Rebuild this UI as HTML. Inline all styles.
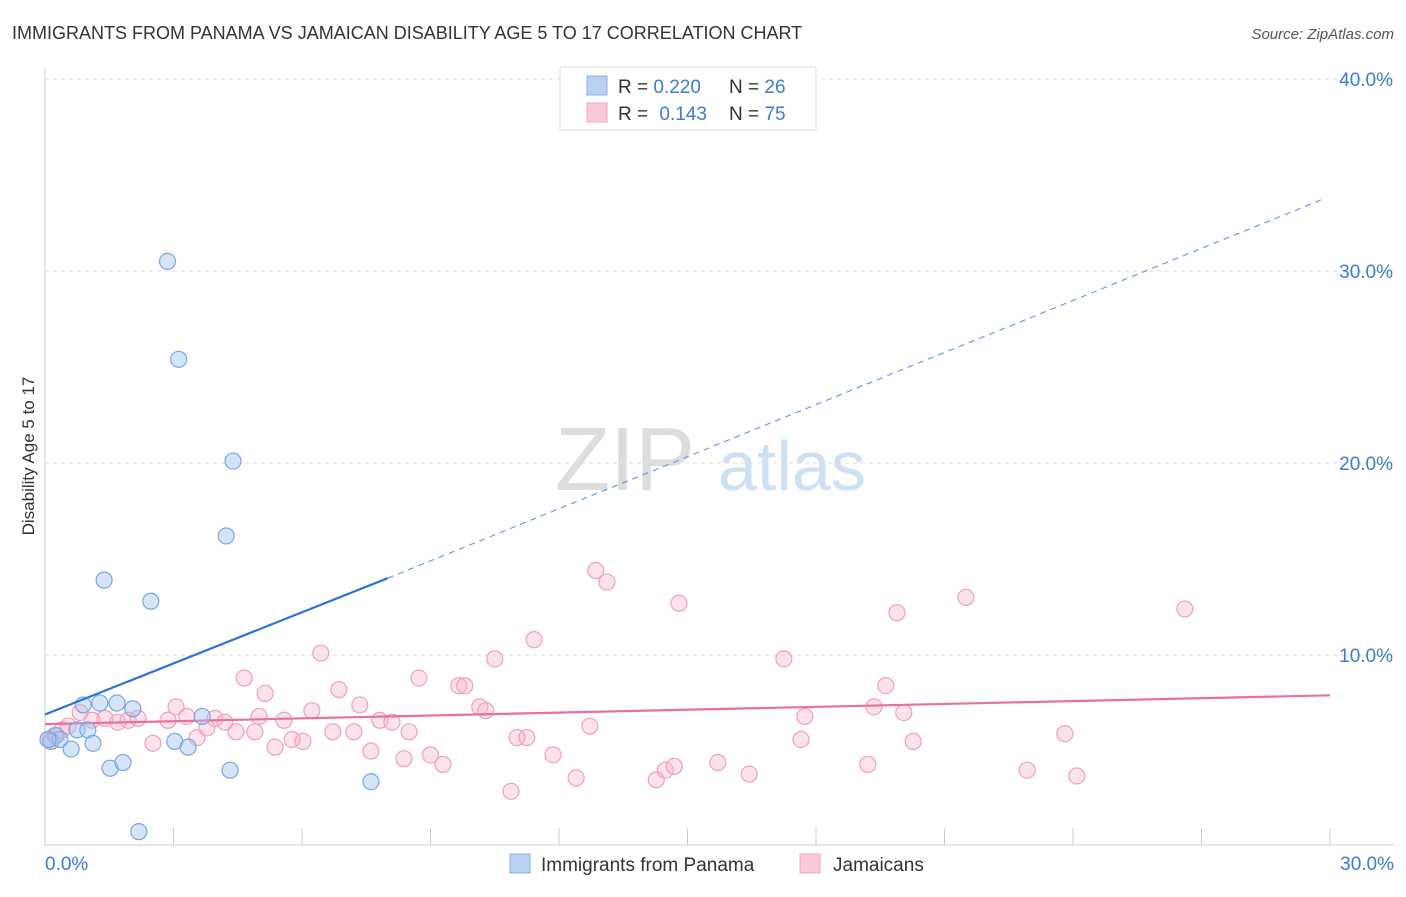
<!DOCTYPE html>
<html><head><meta charset="utf-8"><style>
body{margin:0;background:#fff;font-family:"Liberation Sans",sans-serif;}
svg text{font-family:"Liberation Sans",sans-serif;}
</style></head><body>
<svg id="chart" width="1406" height="892" xmlns="http://www.w3.org/2000/svg">
<text x="12" y="39" font-size="18" fill="#333">IMMIGRANTS FROM PANAMA VS JAMAICAN DISABILITY AGE 5 TO 17 CORRELATION CHART</text>
<text x="1394" y="39" font-size="15" fill="#555" font-style="italic" text-anchor="end">Source: ZipAtlas.com</text>
<text x="0" y="0" font-size="17" fill="#333" transform="translate(34,456) rotate(-90)" text-anchor="middle">Disability Age 5 to 17</text>
<text x="555" y="490" font-size="90" fill="#ddd" font-family="Liberation Serif">ZIP</text>
<text x="718" y="490" font-size="70" fill="#cfe0f5">atlas</text>
<g id="grid"></g><g id="axes"></g><g id="pink"></g><g id="blue"></g>
<g>
<rect x="560" y="67" width="256" height="63" fill="#fff" stroke="#ddd"/>
<rect x="587" y="76" width="20" height="19" fill="#b7d0f3" stroke="#8ab0e6"/>
<rect x="587" y="103" width="20" height="19" fill="#f9c9d7" stroke="#f2a6bf"/>
<text x="618" y="93" font-size="19" fill="#333">R = <tspan fill="#3d7bd6">0.220</tspan></text>
<text x="729" y="93" font-size="19" fill="#333">N = <tspan fill="#3d7bd6">26</tspan></text>
<text x="618" y="120" font-size="19" fill="#333">R = <tspan fill="#3d7bd6" dx="6">0.143</tspan></text>
<text x="729" y="120" font-size="19" fill="#333">N = <tspan fill="#3d7bd6">75</tspan></text>
</g>
<g>
<rect x="510" y="854" width="20" height="19" fill="#b7d0f3" stroke="#8ab0e6"/>
<text x="541" y="871" font-size="19" fill="#333">Immigrants from Panama</text>
<rect x="800" y="854" width="20" height="19" fill="#f9c9d7" stroke="#f2a6bf"/>
<text x="833" y="871" font-size="19" fill="#333">Jamaicans</text>
</g>
</svg>
<script>
const NS="http://www.w3.org/2000/svg";
const yTicks=[10,20,30,40];
const yTickLabels=["10.0%","20.0%","30.0%","40.0%"];
const xEndLabels=["0.0%","30.0%"];
const blueX=[2.86,3.12,4.39,4.23,1.38,2.47,0.89,1.28,1.68,2.05,3.67,0.75,1.0,0.26,0.14,0.35,1.12,0.61,3.03,3.34,1.52,1.82,4.32,7.61,2.19,0.07];
const blueY=[30.5,25.4,20.1,16.2,13.9,12.8,7.4,7.5,7.5,7.2,6.8,6.1,6.1,5.8,5.5,5.6,5.4,5.1,5.5,5.2,4.1,4.4,4.0,3.4,0.8,5.6];
const pinkX=[0.12,0.23,0.4,0.54,0.82,1.1,1.4,1.7,1.94,2.17,2.52,2.87,3.06,3.31,3.55,3.78,3.97,4.2,4.46,4.65,4.9,5.14,5.37,5.58,5.77,6.02,6.23,6.44,6.72,6.86,7.21,7.35,7.61,7.82,8.1,8.38,8.5,8.73,9.0,9.29,9.66,9.8,10.15,10.29,10.5,10.88,11.02,11.25,11.42,11.86,12.4,12.72,12.86,13.12,14.27,14.48,14.8,14.69,15.71,16.44,17.25,17.65,17.74,19.21,19.35,19.63,19.89,20.05,20.27,21.5,22.93,23.81,24.09,26.61,5.0];
const pinkY=[5.6,5.8,6.1,6.3,7.0,6.6,6.7,6.5,6.6,6.7,5.4,6.6,7.3,6.8,5.7,6.2,6.7,6.5,6.0,8.8,6.0,8.0,5.2,6.6,5.6,5.5,7.1,10.1,6.0,8.2,6.0,7.4,5.0,6.6,6.5,4.6,6.0,8.8,4.8,4.3,8.4,8.4,7.3,7.1,9.8,2.9,5.7,5.7,10.8,4.8,3.6,6.3,14.4,13.8,3.5,4.0,12.7,4.2,4.4,3.8,9.8,5.6,6.8,4.3,7.3,8.4,12.2,7.0,5.5,13.0,4.0,5.9,3.7,12.4,6.8];
const blueTrend=[0.0,6.9,8.0,14.0,29.9,33.8];
const pinkTrend=[0.0,6.4,30.0,7.9];
const X0=45,X1=1330,Y0=847,PX=19.2;
const sx=v=>X0+(X1-X0)*v/30, sy=v=>Y0-v*PX;
function mk(t,a,p){const e=document.createElementNS(NS,t);for(const k in a)e.setAttribute(k,a[k]);p.appendChild(e);return e;}
const grid=document.getElementById('grid'),axes=document.getElementById('axes');
yTicks.forEach((t,i)=>{
 const l=mk('line',{x1:45,x2:1394,y1:sy(t),y2:sy(t),stroke:'#ddd','stroke-dasharray':'4,4'},grid);
 
 
 const tx=mk('text',{x:1393,y:sy(t)+7,'font-size':19,fill:'#3d7bd6','text-anchor':'end'},axes);
 tx.textContent=yTickLabels[i];
 
 
});
const ax=mk('line',{x1:45,x2:1394,y1:845,y2:845,stroke:'#ccc'},axes);


const ayl=mk('line',{x1:45,x2:45,y1:68,y2:845,stroke:'#ccc'},axes);


for(let i=0;i<=10;i++){const tk=mk('line',{x1:sx(i*3),x2:sx(i*3),y1:828,y2:845,stroke:'#ccc'},axes);
 
 }
[[0,'start',45],[1,'end',1394]].forEach(([i,a,x])=>{const t=mk('text',{x:x,y:870,'font-size':19,fill:'#3d7bd6','text-anchor':a},axes);t.textContent=xEndLabels[i];
 
 });
const pg=document.getElementById('pink'),bg=document.getElementById('blue');
pinkX.forEach((x,i)=>{const c=mk('circle',{cx:sx(x),cy:sy(pinkY[i]),r:8,fill:'rgba(248,182,202,0.4)',stroke:'#f0a0ba','stroke-width':1.2},pg);
 
 });
blueX.forEach((x,i)=>{const c=mk('circle',{cx:sx(x),cy:sy(blueY[i]),r:8,fill:'rgba(164,196,240,0.45)',stroke:'#7aa6e0','stroke-width':1.2},bg);
 
 });
const bt1=mk('line',{x1:sx(blueTrend[0]),y1:sy(blueTrend[1]),x2:sx(blueTrend[2]),y2:sy(blueTrend[3]),stroke:'#2c6fd6','stroke-width':2.2},bg);


const bt2=mk('line',{x1:sx(blueTrend[2]),y1:sy(blueTrend[3]),x2:sx(blueTrend[4]),y2:sy(blueTrend[5]),stroke:'#6b9be0','stroke-width':1.2,'stroke-dasharray':'6,5'},bg);


const pt=mk('line',{x1:sx(pinkTrend[0]),y1:sy(pinkTrend[1]),x2:sx(pinkTrend[2]),y2:sy(pinkTrend[3]),stroke:'#e8709a','stroke-width':2.2},pg);


</script>
</body></html>
